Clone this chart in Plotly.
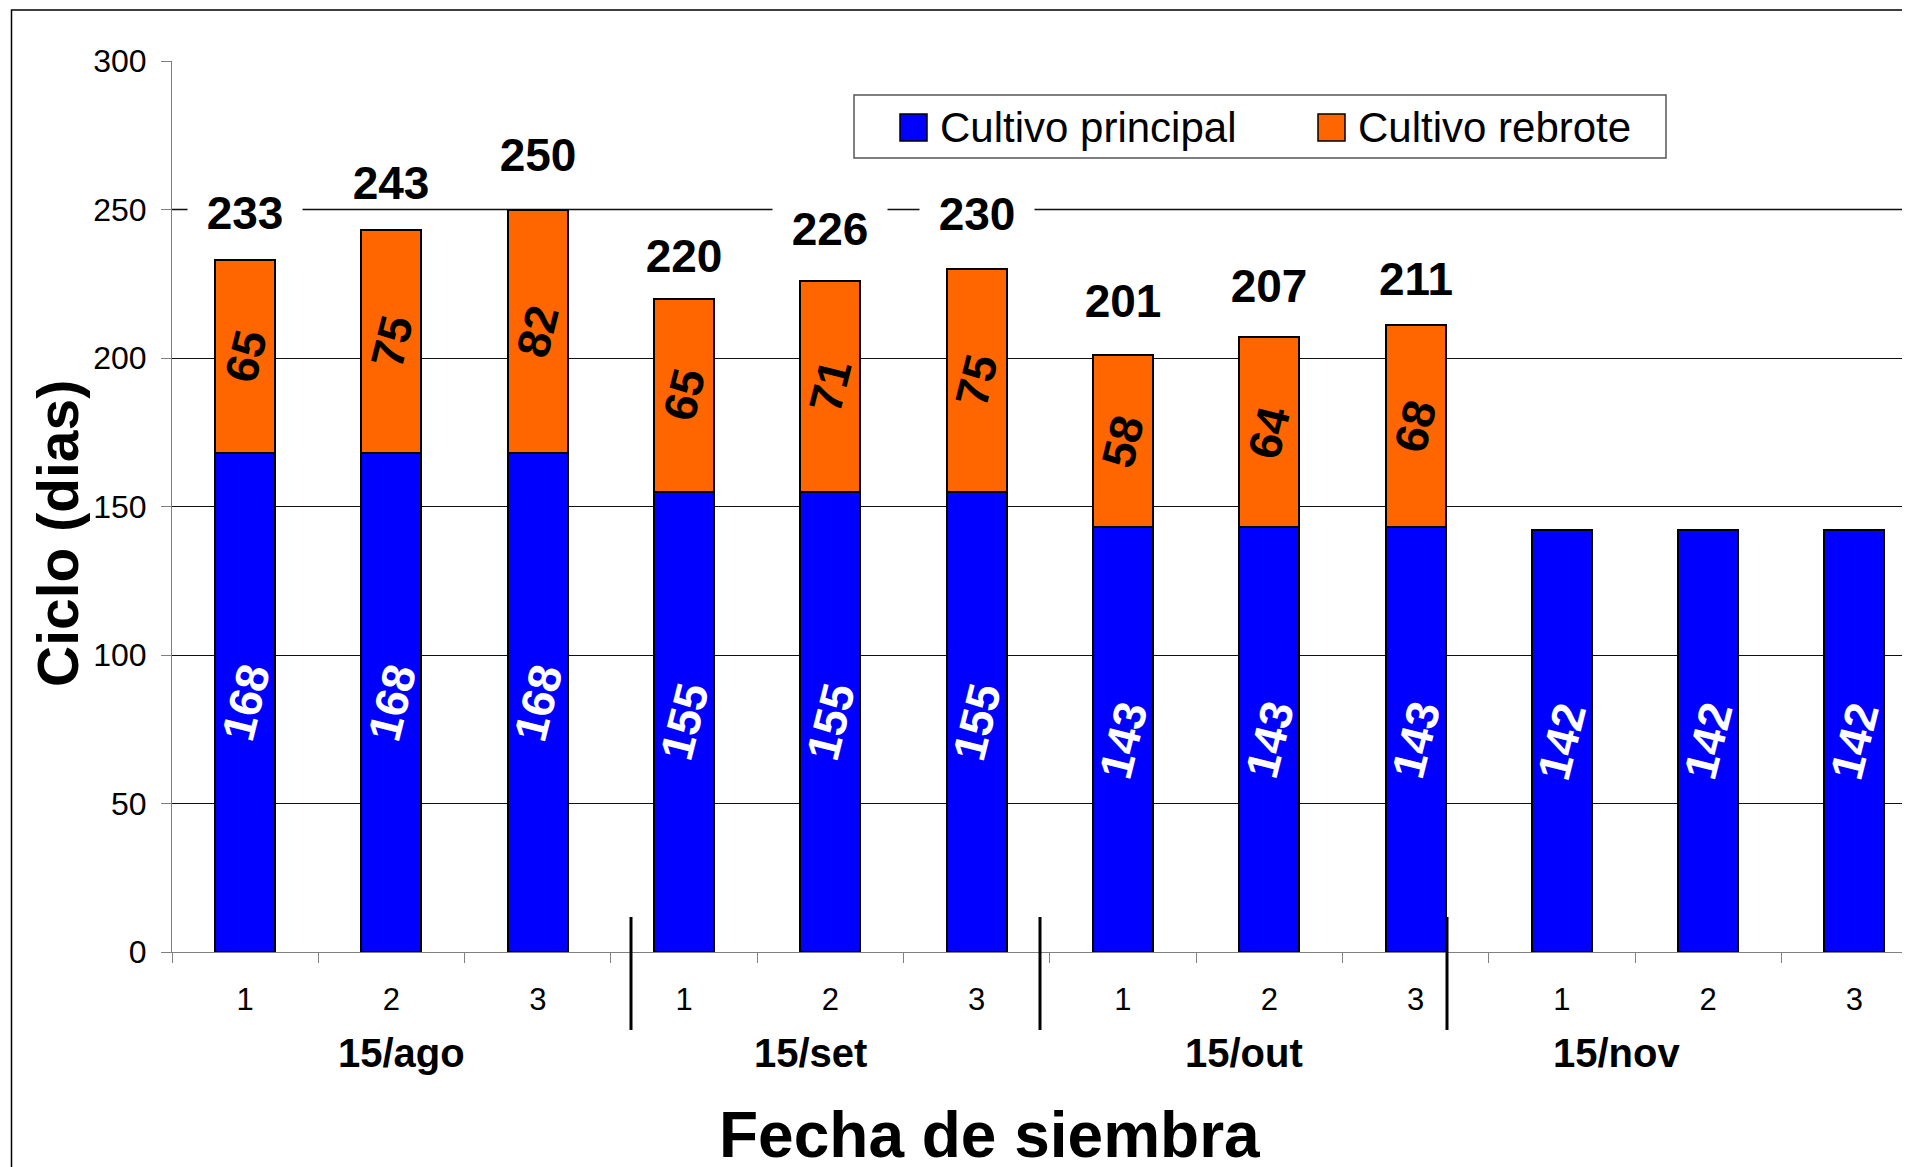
import plotly.graph_objects as go

# ---------------- data ----------------
groups = ["15/ago", "15/set", "15/out", "15/nov"]
subcats = ["1", "2", "3"]
principal = [168, 168, 168, 155, 155, 155, 143, 143, 143, 142, 142, 142]
rebrote = [65, 75, 82, 65, 71, 75, 58, 64, 68, None, None, None]
series_names = ["Cultivo principal", "Cultivo rebrote"]
y_ticks = [0, 50, 100, 150, 200, 250, 300]
x_title = "Fecha de siembra"
y_title = "Ciclo (dias)"

# ---------------- layout constants ----------------
OFF = 8  # default page body margin
PAGE_W, PAGE_H = 1910, 1167
W, H = PAGE_W - OFF, PAGE_H - OFF
PLOT_LEFT, PLOT_TOP, PLOT_BOTTOM = 172, 61, 952   # page pixels
L = PLOT_LEFT - OFF
T = PLOT_TOP - OFF
B = H - (PLOT_BOTTOM - OFF)
R = 0
plot_w = W - L - R
plot_h = H - T - B
CAT_PX = 146.3
FONT = "Liberation Sans, Arial, sans-serif"
BLUE = "#0000FF"
ORANGE = "#FF6600"
# pixel gap between bar top and total-label centre (style, as placed in the original)
TOTAL_LABEL_GAP = [47, 47, 55, 43, 52, 55, 54, 51, 46]


def pxp(xp):
    """page pixel x -> paper x"""
    return (xp - OFF - L) / plot_w


def pyp(yp):
    """page pixel y -> paper y"""
    return (H - B - (yp - OFF)) / plot_h


x_idx = list(range(len(principal)))
ticktext = subcats * len(groups)
x_range = [-0.5, -0.5 + plot_w / CAT_PX]

fig = go.Figure()
fig.add_trace(go.Bar(x=x_idx, y=principal, name=series_names[0], width=0.41,
                     marker=dict(color=BLUE, line=dict(color="black", width=2)),
                     showlegend=False))
fig.add_trace(go.Bar(x=x_idx, y=rebrote, name=series_names[1], width=0.41,
                     marker=dict(color=ORANGE, line=dict(color="black", width=2)),
                     showlegend=False))

annotations = []
shapes = []

# inner value labels (rotated)
k = 0
for i, (p, r) in enumerate(zip(principal, rebrote)):
    annotations.append(dict(x=i, y=p / 2, xref="x", yref="y", text=str(p), showarrow=False,
                            textangle=-76, font=dict(family=FONT, size=46, color="white", weight="bold")))
    if r is not None:
        annotations.append(dict(x=i, y=p + r / 2, xref="x", yref="y", text=str(r), showarrow=False,
                                textangle=-76, font=dict(family=FONT, size=46, color="black", weight="bold")))
        tot = p + r
        gap = TOTAL_LABEL_GAP[k] if k < len(TOTAL_LABEL_GAP) else 50
        k += 1
        annotations.append(dict(x=i, y=tot, xref="x", yref="y", text=str(tot), showarrow=False,
                                yanchor="middle", yshift=gap, bgcolor="white", width=112, height=40,
                                font=dict(family=FONT, size=46, color="black", weight="bold")))

# group labels
group_label_px = [401, 810, 1244, 1616]
for g, gx in zip(groups, group_label_px):
    annotations.append(dict(x=pxp(gx), y=pyp(1053), xref="paper", yref="paper", text=g, showarrow=False,
                            xanchor="center", yanchor="middle",
                            font=dict(family=FONT, size=40, color="black", weight="bold")))

# axis titles
annotations.append(dict(x=pxp(989), y=pyp(1135), xref="paper", yref="paper", text=x_title, showarrow=False,
                        xanchor="center", yanchor="middle",
                        font=dict(family=FONT, size=64, color="black", weight="bold")))
annotations.append(dict(x=pxp(58), y=pyp(533), xref="paper", yref="paper", text=y_title, showarrow=False,
                        textangle=-90, xanchor="center", yanchor="middle",
                        font=dict(family=FONT, size=57, color="black", weight="bold")))

# group separators
for sx in [631, 1040, 1447]:
    shapes.append(dict(type="line", xref="paper", yref="paper", x0=pxp(sx), x1=pxp(sx),
                       y0=pyp(917), y1=pyp(1030), line=dict(color="black", width=3)))

# grey 250 line look
shapes.append(dict(type="line", xref="paper", yref="y", x0=0, x1=1, y0=250, y1=250,
                   line=dict(color="#808080", width=2), layer="between"))

# outer frame
shapes.append(dict(type="rect", xref="paper", yref="paper", x0=pxp(11.5), x1=pxp(1950),
                   y0=pyp(1200), y1=pyp(10), line=dict(color="black", width=1.5), layer="below"))

# manual legend
shapes.append(dict(type="rect", xref="paper", yref="paper", x0=pxp(854), x1=pxp(1666),
                   y0=pyp(158), y1=pyp(95), line=dict(color="#555555", width=1.5),
                   fillcolor="white", layer="above"))
leg_items = [(series_names[0], BLUE, 900, 939), (series_names[1], ORANGE, 1318, 1357)]
for name, col, sq_x, tx in leg_items:
    shapes.append(dict(type="rect", xref="paper", yref="paper", x0=pxp(sq_x), x1=pxp(sq_x + 27),
                       y0=pyp(141), y1=pyp(114), line=dict(color="black", width=1.5),
                       fillcolor=col, layer="above"))
    annotations.append(dict(x=pxp(tx), y=pyp(128), xref="paper", yref="paper", text=name, showarrow=False,
                            xanchor="left", yanchor="middle", borderpad=0,
                            font=dict(family=FONT, size=42, color="black")))

fig.update_layout(
    width=W, height=H,
    margin=dict(l=L, r=R, t=T, b=B, autoexpand=False),
    paper_bgcolor="white", plot_bgcolor="white",
    barmode="stack", showlegend=False,
    font=dict(family=FONT, color="black"),
    annotations=annotations, shapes=shapes,
    xaxis=dict(range=x_range, tickmode="array", tickvals=x_idx, ticktext=ticktext,
               ticks="outside", ticklen=10, tickcolor="rgba(0,0,0,0)",
               ticklabelstandoff=10,
               tickfont=dict(family=FONT, size=31, color="black"),
               showgrid=False, zeroline=False, showline=True, linecolor="#808080", linewidth=1,
               minor=dict(tickmode="array", tickvals=[i - 0.5 for i in x_idx], ticks="outside",
                          ticklen=10, tickcolor="#808080", tickwidth=1, showgrid=False),
               fixedrange=True),
    yaxis=dict(range=[0, 300], tickmode="array", tickvals=y_ticks,
               ticks="outside", ticklen=10, tickcolor="#808080", tickwidth=1,
               ticklabelstandoff=8,
               tickfont=dict(family=FONT, size=32, color="black"),
               showgrid=True, gridcolor="#111111", gridwidth=1, zeroline=False,
               showline=True, linecolor="#808080", linewidth=1, fixedrange=True),
)

fig.write_html("out.html", config={"displayModeBar": False})
